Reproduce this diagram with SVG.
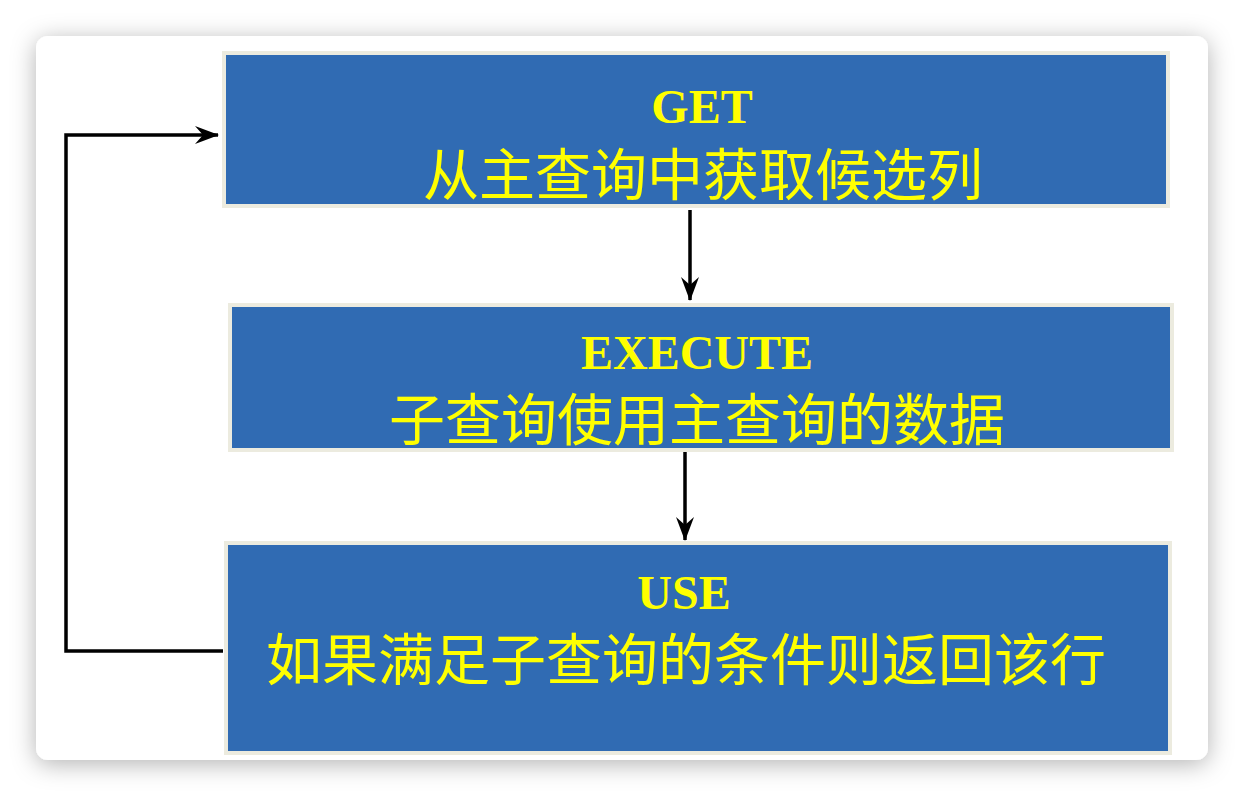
<svg xmlns="http://www.w3.org/2000/svg" width="1244" height="796" viewBox="0 0 1244 796">
  <defs>
    <filter id="sh" x="-10%" y="-10%" width="120%" height="120%">
      <feDropShadow dx="0" dy="4" stdDeviation="12" flood-color="#000" flood-opacity="0.3"/>
    </filter>
    <marker id="ah" viewBox="0 0 24 20" refX="23" refY="10" markerWidth="24" markerHeight="20" markerUnits="userSpaceOnUse" orient="auto">
      <path d="M0,1 L24,10 L0,19 L8,10 Z" fill="#000"/>
    </marker>
    <style>
      .box { fill: #306BB3; stroke: #ECEBDF; stroke-width: 4; }
      .en { font-family: "Liberation Serif", "Times New Roman", serif; font-weight: bold; font-size: 48px; fill: #FFFF00; text-anchor: middle; }
      .zh { font-family: "Noto Sans CJK SC", "Noto Sans", sans-serif; font-size: 56px; fill: #FFFF00; text-anchor: middle; }
      .con { fill: none; stroke: #000; stroke-width: 3.5; }
    </style>
  </defs>
  <rect x="0" y="0" width="1244" height="796" fill="#fff"/>
  <rect x="36" y="36" width="1172" height="724" rx="12" fill="#fff" filter="url(#sh)"/>

  <g id="node-get">
    <rect class="box" x="224" y="53" width="944" height="153"/>
    <text class="en" x="702" y="123">GET</text>
    <text class="zh" x="703" y="195">从主查询中获取候选列</text>
  </g>
  <g id="node-execute">
    <rect class="box" x="230" y="305" width="942" height="145"/>
    <text class="en" x="697" y="369">EXECUTE</text>
    <text class="zh" x="697" y="440">子查询使用主查询的数据</text>
  </g>
  <g id="node-use">
    <rect class="box" x="226" y="543" width="944" height="210"/>
    <text class="en" x="684" y="609">USE</text>
    <text class="zh" x="686" y="680">如果满足子查询的条件则返回该行</text>
  </g>

  <g id="connectors">
    <line class="con" x1="690" y1="210" x2="690" y2="300" marker-end="url(#ah)"/>
    <line class="con" x1="685" y1="452" x2="685" y2="540" marker-end="url(#ah)"/>
    <polyline class="con" points="223,651 66,651 66,135 218,135" marker-end="url(#ah)"/>
  </g>
</svg>
